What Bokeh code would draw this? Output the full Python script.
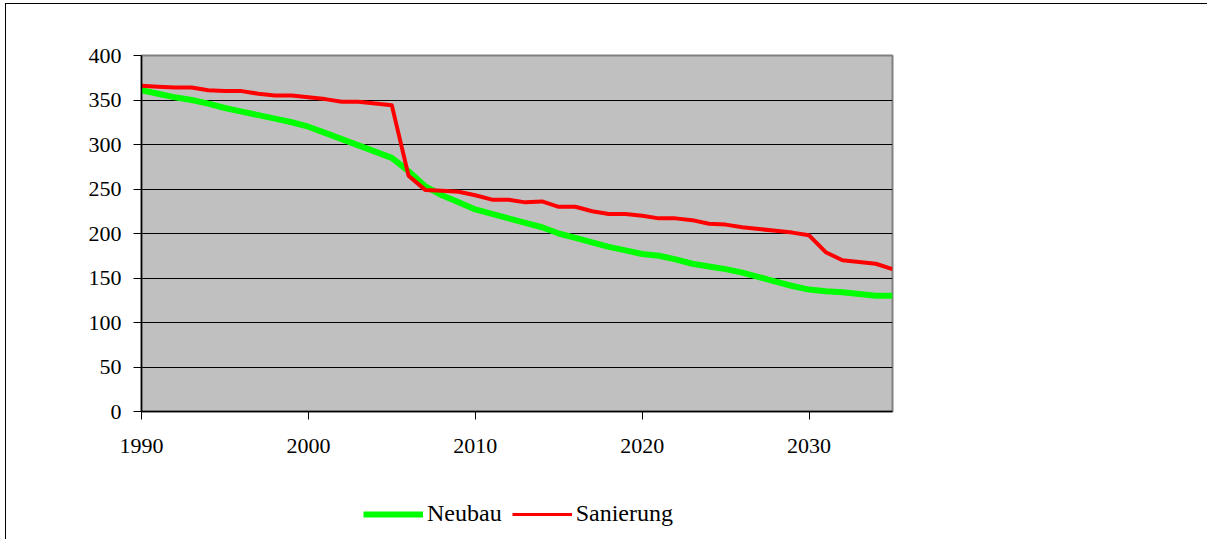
from bokeh.plotting import figure
from bokeh.layouts import column
from bokeh.models import Range1d, Legend, FixedTicker, SingleIntervalTicker
from bokeh.embed import file_html
from bokeh.resources import INLINE

years = list(range(1990, 2036))
neubau = [361, 357, 353, 350, 346, 341, 337, 333, 329, 325,
          320, 313, 306, 299, 292, 285, 270, 253, 243, 235,
          227, 222, 217, 212, 207, 200, 195, 190, 185, 181,
          177, 175, 171, 166, 163, 160, 156, 151, 146, 141,
          137, 135, 134, 132, 130, 130]
sanierung = [366, 365, 364, 364, 361, 360, 360, 357, 355, 355,
             353, 351, 348, 348, 346, 344, 265, 249, 248, 247,
             243, 238, 238, 235, 236, 230, 230, 225, 222, 222,
             220, 217, 217, 215, 211, 210, 207, 205, 203, 201,
             198, 179, 170, 168, 166, 160]
x_ticks = [1990, 2000, 2010, 2020, 2030]
series_names = ["Neubau", "Sanierung"]
series_colors = ["#00FF00", "#FF0000"]
series_widths = [6, 4]

FONT = "Liberation Serif"
FS = "22px"
W = 135 + 751 + 315

p = figure(frame_width=751, frame_height=356,
           min_border_left=135, min_border_right=315,
           min_border_top=51, min_border_bottom=80,
           x_range=Range1d(1990, 2035), y_range=Range1d(0, 400),
           output_backend="svg", toolbar_location=None,
           background_fill_color="#C0C0C0", border_fill_color="white")

p.outline_line_color = "#808080"
p.outline_line_width = 2

p.xgrid.grid_line_color = None
p.ygrid.grid_line_color = "black"
p.ygrid.grid_line_width = 1
p.yaxis.ticker = SingleIntervalTicker(interval=50)
p.xaxis.ticker = FixedTicker(ticks=x_ticks)

for ax in (p.xaxis[0], p.yaxis[0]):
    ax.axis_line_color = "black"
    ax.axis_line_width = 1.5
    ax.major_tick_line_color = "black"
    ax.major_tick_in = 0
    ax.major_tick_out = 8
    ax.minor_tick_line_color = None
    ax.major_label_text_font = FONT
    ax.major_label_text_font_size = FS
    ax.major_label_text_color = "black"
p.xaxis.major_label_standoff = 19
p.yaxis.major_label_standoff = 12

p.line(years, neubau, line_color=series_colors[0], line_width=series_widths[0], line_join="round")
p.line(years, sanierung, line_color=series_colors[1], line_width=series_widths[1], line_join="round")

# legend strip below the chart (its own lines lie outside its visible range)
pl = figure(width=W, height=48, min_border=0,
            x_range=Range1d(0, 1), y_range=Range1d(0, 1),
            output_backend="svg", toolbar_location=None,
            outline_line_color=None, background_fill_color="white",
            border_fill_color="white")
pl.axis.visible = False
pl.grid.visible = False
lg = pl.line(years, neubau, line_color=series_colors[0], line_width=series_widths[0])
lr = pl.line(years, sanierung, line_color=series_colors[1], line_width=series_widths[1] - 1)

legend = Legend(items=[(series_names[0], [lg]), (series_names[1], [lr])],
                orientation="horizontal", location=(222, 12),
                border_line_color=None, background_fill_alpha=0,
                padding=0, margin=0, glyph_width=60, glyph_height=24,
                label_height=24, label_standoff=4, spacing=10,
                label_text_font=FONT, label_text_font_size="24px",
                label_text_color="black")
pl.add_layout(legend, "center")

lay = column(p, pl, spacing=0)
lay.styles = {"border-top": "1px solid black", "border-left": "1px solid black",
              "margin-top": "3px", "margin-left": "5px"}

open("out.html", "w").write(file_html(lay, INLINE))
